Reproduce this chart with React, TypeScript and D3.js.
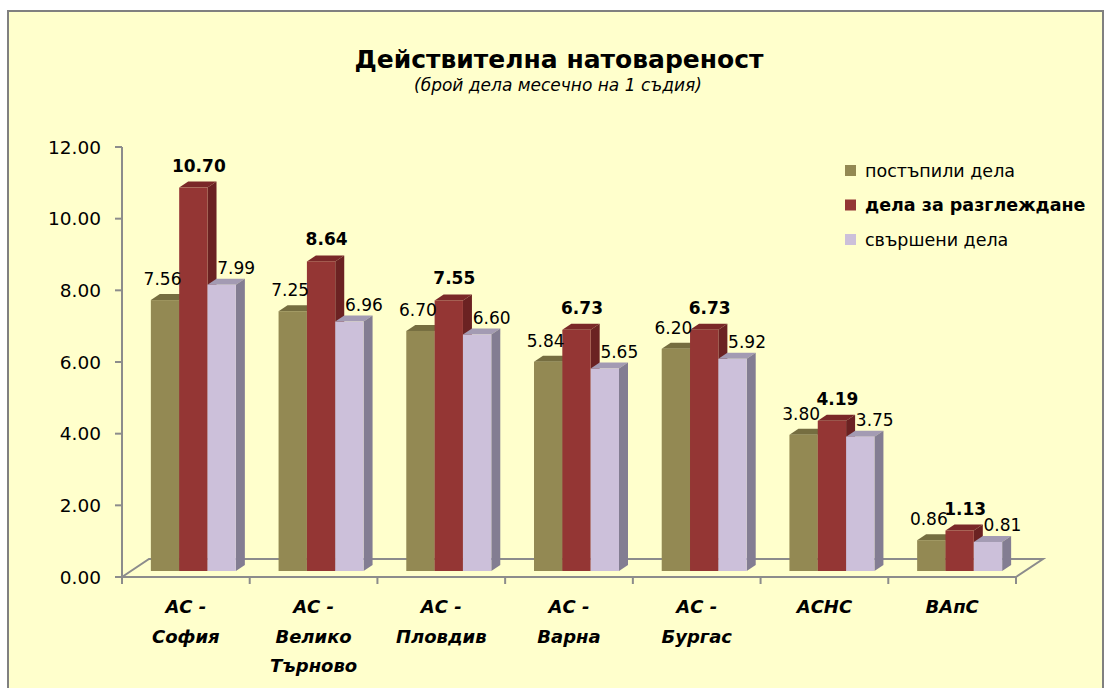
import React from "react";
import * as d3 from "d3";

const categories = [
  "АС - София",
  "АС - Велико Търново",
  "АС - Пловдив",
  "АС - Варна",
  "АС - Бургас",
  "АСНС",
  "ВАпС",
];
const seriesNames = ["постъпили дела", "дела за разглеждане", "свършени дела"];
const received = [7.56, 7.25, 6.7, 5.84, 6.2, 3.8, 0.86];
const pending = [10.7, 8.64, 7.55, 6.73, 6.73, 4.19, 1.13];
const resolved = [7.99, 6.96, 6.6, 5.65, 5.92, 3.75, 0.81];
const yTicks = [0, 2, 4, 6, 8, 10, 12];

const title = "Действителна натовареност";
const subtitle = "(брой дела месечно на 1 съдия)";

const W = 1112;
const H = 688;
const FONT = "'DejaVu Sans', Verdana, sans-serif";

const colors = [
  { front: "#938953", side: "#6d6639", top: "#756d40" },
  { front: "#943634", side: "#6b2222", top: "#7a2828" },
  { front: "#ccc0da", side: "#837d92", top: "#a39bb3" },
];

function wrap(s: string): string[] {
  const words = s.split(" ");
  const lines: string[] = [];
  words.forEach((w) => {
    if (w === "-" && lines.length) lines[lines.length - 1] += " -";
    else lines.push(w);
  });
  return lines;
}

export default function App() {
  const x0 = 122;
  const x1 = 1016;
  const yFront0 = 577;
  const yTop = 147;
  const floorDx = 27;
  const floorDy = -18;
  const barDx = floorDx / 3;
  const barDy = floorDy / 3;

  const x = d3.scaleBand<string>().domain(categories).range([x0, x1]).padding(0);
  const y = d3.scaleLinear().domain([0, 12]).range([yFront0, yTop]);
  const groupW = 85;
  const inner = d3.scaleBand<string>().domain(seriesNames).range([0, groupW]).padding(0);
  const bw = inner.bandwidth();

  const data = [received, pending, resolved];
  const fmt = d3.format(".2f");

  const bars: JSX.Element[] = [];
  const labels: JSX.Element[] = [];
  categories.forEach((c, ci) => {
    const gx = (x(c) as number) + x.bandwidth() / 2 + barDx - 1.5 - groupW / 2;
    seriesNames.forEach((s, si) => {
      const v = data[si][ci];
      const bx = gx + (inner(s) as number);
      const by = y(v) + barDy;
      const bb = y(0) + barDy;
      const col = colors[si];
      const top = `M${bx},${by} L${bx + barDx},${by + barDy} L${bx + bw + barDx},${by + barDy} L${bx + bw},${by} Z`;
      const side = `M${bx + bw},${by} L${bx + bw + barDx},${by + barDy} L${bx + bw + barDx},${bb + barDy} L${bx + bw},${bb} Z`;
      bars.push(
        <g key={`${ci}-${si}`}>
          <path d={top} fill={col.top} />
          <path d={side} fill={col.side} />
          <rect x={bx} y={by} width={bw} height={bb - by} fill={col.front} />
        </g>
      );
      const cx = bx + bw / 2 + barDx / 2;
      const shift = si === 0 ? -7 : si === 1 ? 1 : 10;
      const lift = si === 0 ? 9 : si === 1 ? 10 : 5;
      labels.push(
        <text
          key={`l${ci}-${si}`}
          x={cx + shift}
          y={by + barDy - lift}
          textAnchor="middle"
          fontFamily={FONT}
          fontSize={17}
          fontWeight={si === 1 ? "bold" : "normal"}
          fill="#000"
        >
          {fmt(v)}
        </text>
      );
    });
  });

  const grey = "#8c8c8c";
  const floorPath = `M${x0},${yFront0} L${x0 + floorDx},${yFront0 + floorDy} L${x1 + floorDx},${yFront0 + floorDy} L${x1},${yFront0}`;

  return (
    <svg
      width={W}
      height={H}
      style={{ position: "absolute", left: 0, top: 0 }}
      xmlns="http://www.w3.org/2000/svg"
    >
      <rect x={0} y={0} width={W} height={H} fill="#ffffff" />
      <rect x={8} y={11} width={1095} height={700} fill="#ffffcc" stroke="#808080" strokeWidth={2} />
      <text x={559} y={68} textAnchor="middle" fontFamily={FONT} fontWeight="bold" fontSize={25} fill="#000">
        {title}
      </text>
      <text x={558} y={91} textAnchor="middle" fontFamily={FONT} fontStyle="italic" fontSize={17} fill="#000">
        {subtitle}
      </text>

      {/* floor */}
      <path d={floorPath} fill="none" stroke={grey} strokeWidth={2} />
      <line x1={x0 - 7} y1={yFront0} x2={x1} y2={yFront0} stroke={grey} strokeWidth={2} />
      {categories.map((c, i) => (
        <line key={`ct${i}`} x1={x.step() * i + x0} x2={x.step() * i + x0} y1={yFront0} y2={yFront0 + 7} stroke={grey} strokeWidth={2} />
      ))}
      <line x1={x1} x2={x1} y1={yFront0} y2={yFront0 + 7} stroke={grey} strokeWidth={2} />

      {/* y axis */}
      <line x1={x0} x2={x0} y1={y(12)} y2={yFront0 + 7} stroke={grey} strokeWidth={2} />
      {yTicks.map((t) => (
        <g key={`yt${t}`}>
          <line x1={x0 - 7} x2={x0} y1={y(t)} y2={y(t)} stroke={grey} strokeWidth={2} />
          <text x={x0 - 21} y={y(t) + 6.5} textAnchor="end" fontFamily={FONT} fontSize={18.5} fill="#000">
            {fmt(t)}
          </text>
        </g>
      ))}

      {bars}
      {labels}

      {/* category labels */}
      {categories.map((c) => {
        const cx = (x(c) as number) + x.bandwidth() / 2;
        return (
          <text key={`cl${c}`} textAnchor="middle" fontFamily={FONT} fontWeight="bold" fontStyle="italic" fontSize={18} fill="#000">
            {wrap(c).map((ln, li) => (
              <tspan key={li} x={cx} y={613 + li * 29.5}>
                {ln}
              </tspan>
            ))}
          </text>
        );
      })}

      {/* legend */}
      {seriesNames.map((s, i) => (
        <g key={`lg${i}`}>
          <rect x={845} y={165 + i * 34.5} width={11} height={11} fill={colors[i].front} />
          <text x={865} y={176.5 + i * 34.5} fontFamily={FONT} fontSize={17.5} fontWeight={i === 1 ? "bold" : "normal"} fill="#000">
            {s}
          </text>
        </g>
      ))}
    </svg>
  );
}
